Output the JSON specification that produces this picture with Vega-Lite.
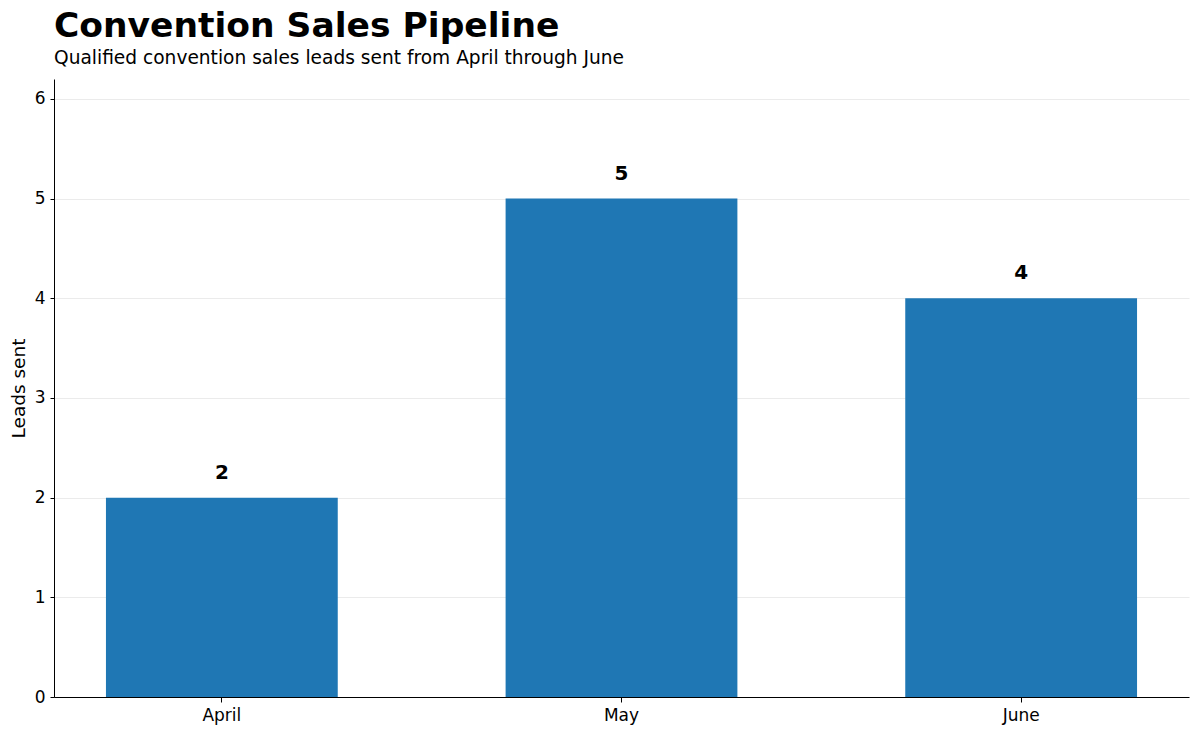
{
  "$schema": "https://vega.github.io/schema/vega-lite/v6.json",
  "width": 1135,
  "height": 618,
  "autosize": {"type": "none"},
  "padding": {"left": 54, "top": 79, "right": 11, "bottom": 37},
  "background": "white",
  "title": {
    "text": "Convention Sales Pipeline",
    "subtitle": "Qualified convention sales leads sent from April through June",
    "anchor": "start",
    "frame": "group",
    "font": "DejaVu Sans",
    "fontSize": 34.5,
    "fontWeight": "bold",
    "color": "black",
    "subtitleFont": "DejaVu Sans",
    "subtitleFontSize": 18.6,
    "subtitleColor": "black",
    "subtitlePadding": 5,
    "offset": 10
  },
  "data": {
    "values": [
      {"month": "April", "leads": 2},
      {"month": "May", "leads": 5},
      {"month": "June", "leads": 4}
    ]
  },
  "encoding": {
    "x": {
      "field": "month",
      "type": "nominal",
      "sort": ["April", "May", "June"],
      "scale": {"paddingInner": 0.42, "paddingOuter": 0.13},
      "axis": {
        "title": null,
        "labelAngle": 0,
        "labelFont": "DejaVu Sans",
        "labelFontSize": 17,
        "labelColor": "black",
        "labelPadding": 5,
        "domainColor": "black",
        "tickColor": "black",
        "tickSize": 5,
        "grid": false
      }
    },
    "y": {
      "field": "leads",
      "type": "quantitative",
      "scale": {"domain": [0, 6.2], "nice": false},
      "axis": {
        "title": "Leads sent",
        "titleFont": "DejaVu Sans",
        "titleFontSize": 18.5,
        "titleFontWeight": "normal",
        "titleColor": "black",
        "titlePadding": 6,
        "values": [0, 1, 2, 3, 4, 5, 6],
        "labelFont": "DejaVu Sans",
        "labelFontSize": 17,
        "labelColor": "black",
        "labelPadding": 5,
        "domainColor": "black",
        "tickColor": "black",
        "tickSize": 4,
        "grid": true,
        "gridColor": "#ebebeb",
        "gridWidth": 1
      }
    }
  },
  "layer": [
    {"mark": {"type": "bar", "color": "#1f77b4"}},
    {
      "mark": {
        "type": "text",
        "font": "DejaVu Sans",
        "fontSize": 20,
        "fontWeight": "bold",
        "color": "black",
        "baseline": "middle",
        "dy": -25
      },
      "encoding": {"text": {"field": "leads", "type": "quantitative"}}
    }
  ],
  "config": {"view": {"stroke": null}}
}
